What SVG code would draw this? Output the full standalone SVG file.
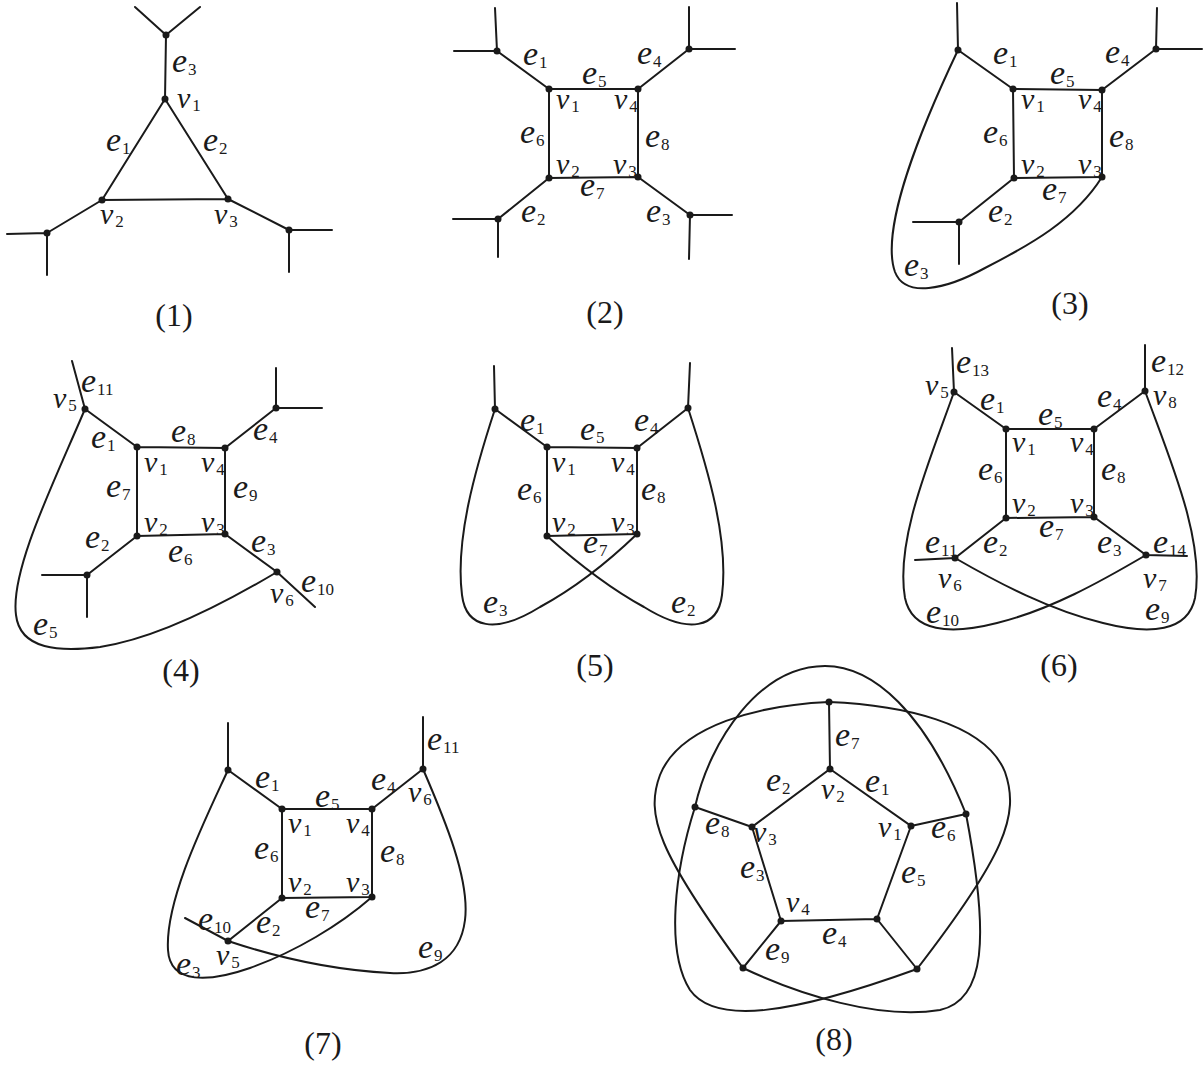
<svg xmlns="http://www.w3.org/2000/svg" width="1203" height="1067" viewBox="0 0 1203 1067">
<style>
.ed{fill:none;stroke:#1a1a1a;stroke-width:2;stroke-linecap:round}
.nd{fill:#1a1a1a}
text{font-family:"Liberation Serif","Times New Roman",serif;fill:#1a1a1a}
.e{font-style:italic;font-size:34px}
.v{font-style:italic;font-size:30px}
.s{font-style:normal;font-size:17px}
.cap{font-size:32px;text-anchor:middle}
</style>
<rect width="1203" height="1067" fill="#ffffff"/>

<!-- ===== Panel 1 ===== -->
<g id="panel1">
<g id="p1-edges" class="ed">
<path d="M166,35 L135,7 M166,35 L200,7 M166,35 L165,99 M165,99 L102,200 M165,99 L228,199 M102,200 L228,199 M102,200 L47,233 M47,233 L7,234 M47,233 L47,275 M228,199 L289,230 M289,230 L332,230 M289,230 L289,272"/>
</g>
<g id="p1-t"><circle class="nd" cx="166" cy="35" r="3.5"/></g>
<g id="p1-v1"><circle class="nd" cx="165" cy="99" r="3.5"/><text class="v" x="177" y="108">v<tspan class="s" dx="2" dy="3">1</tspan></text></g>
<g id="p1-v2"><circle class="nd" cx="102" cy="200" r="3.5"/><text class="v" x="100" y="224">v<tspan class="s" dx="2" dy="3">2</tspan></text></g>
<g id="p1-v3"><circle class="nd" cx="228" cy="199" r="3.5"/><text class="v" x="214" y="224">v<tspan class="s" dx="2" dy="3">3</tspan></text></g>
<g id="p1-l"><circle class="nd" cx="47" cy="233" r="3.5"/></g>
<g id="p1-r"><circle class="nd" cx="289" cy="230" r="3.5"/></g>
<g id="p1-labels">
<text class="e" x="172" y="72">e<tspan class="s" dx="1" dy="3">3</tspan></text>
<text class="e" x="106" y="151">e<tspan class="s" dx="1" dy="3">1</tspan></text>
<text class="e" x="203" y="151">e<tspan class="s" dx="1" dy="3">2</tspan></text>
<text class="cap" x="174" y="326">(1)</text>
</g>
</g>

<!-- ===== Panel 2 ===== -->
<g id="panel2">
<g id="p2-edges" class="ed">
<path d="M549,89 L638,89 L638,177 L549,178 Z M549,89 L497,51 M497,51 L454,51 M497,51 L495,8 M638,89 L689,49 M689,49 L735,49 M689,49 L689,7 M549,178 L498,219 M498,219 L453,219 M498,219 L498,257 M638,177 L690,215 M690,215 L732,215 M690,215 L689,259"/>
</g>
<g id="p2-tl"><circle class="nd" cx="497" cy="51" r="3.5"/></g>
<g id="p2-tr"><circle class="nd" cx="689" cy="49" r="3.5"/></g>
<g id="p2-bl"><circle class="nd" cx="498" cy="219" r="3.5"/></g>
<g id="p2-br"><circle class="nd" cx="690" cy="215" r="3.5"/></g>
<g id="p2-v1"><circle class="nd" cx="549" cy="89" r="3.5"/><text class="v" x="556" y="109">v<tspan class="s" dx="2" dy="3">1</tspan></text></g>
<g id="p2-v4"><circle class="nd" cx="638" cy="89" r="3.5"/><text class="v" x="614" y="109">v<tspan class="s" dx="2" dy="3">4</tspan></text></g>
<g id="p2-v2"><circle class="nd" cx="549" cy="178" r="3.5"/><text class="v" x="556" y="174">v<tspan class="s" dx="2" dy="3">2</tspan></text></g>
<g id="p2-v3"><circle class="nd" cx="638" cy="177" r="3.5"/><text class="v" x="613" y="174">v<tspan class="s" dx="2" dy="3">3</tspan></text></g>
<g id="p2-labels">
<text class="e" x="523" y="65">e<tspan class="s" dx="1" dy="3">1</tspan></text>
<text class="e" x="582" y="84">e<tspan class="s" dx="1" dy="3">5</tspan></text>
<text class="e" x="637" y="64">e<tspan class="s" dx="1" dy="3">4</tspan></text>
<text class="e" x="520" y="143">e<tspan class="s" dx="1" dy="3">6</tspan></text>
<text class="e" x="645" y="147">e<tspan class="s" dx="1" dy="3">8</tspan></text>
<text class="e" x="580" y="196">e<tspan class="s" dx="1" dy="3">7</tspan></text>
<text class="e" x="521" y="222">e<tspan class="s" dx="1" dy="3">2</tspan></text>
<text class="e" x="646" y="222">e<tspan class="s" dx="1" dy="3">3</tspan></text>
<text class="cap" x="605" y="323">(2)</text>
</g>
</g>

<!-- ===== Panel 3 ===== -->
<g id="panel3">
<g id="p3-edges" class="ed">
<path d="M1013,89 L1102,90 L1102,177 L1014,178 Z M958,50 L1013,89 M958,50 L957,3 M1102,90 L1156,49 M1156,49 L1202,49 M1156,49 L1157,8 M1014,178 L959,222 M959,222 L913,222 M959,222 L959,264"/>
<path d="M958,50 C920,130 880,230 895,272 C905,298 945,290 985,268 C1030,245 1075,220 1102,177"/>
</g>
<g id="p3-tl"><circle class="nd" cx="958" cy="50" r="3.5"/></g>
<g id="p3-tr"><circle class="nd" cx="1156" cy="49" r="3.5"/></g>
<g id="p3-bl"><circle class="nd" cx="959" cy="222" r="3.5"/></g>
<g id="p3-v1"><circle class="nd" cx="1013" cy="89" r="3.5"/><text class="v" x="1021" y="109">v<tspan class="s" dx="2" dy="3">1</tspan></text></g>
<g id="p3-v4"><circle class="nd" cx="1102" cy="90" r="3.5"/><text class="v" x="1078" y="109">v<tspan class="s" dx="2" dy="3">4</tspan></text></g>
<g id="p3-v2"><circle class="nd" cx="1014" cy="178" r="3.5"/><text class="v" x="1021" y="174">v<tspan class="s" dx="2" dy="3">2</tspan></text></g>
<g id="p3-v3"><circle class="nd" cx="1102" cy="177" r="3.5"/><text class="v" x="1078" y="174">v<tspan class="s" dx="2" dy="3">3</tspan></text></g>
<g id="p3-labels">
<text class="e" x="993" y="64">e<tspan class="s" dx="1" dy="3">1</tspan></text>
<text class="e" x="1050" y="84">e<tspan class="s" dx="1" dy="3">5</tspan></text>
<text class="e" x="1105" y="63">e<tspan class="s" dx="1" dy="3">4</tspan></text>
<text class="e" x="983" y="143">e<tspan class="s" dx="1" dy="3">6</tspan></text>
<text class="e" x="1109" y="147">e<tspan class="s" dx="1" dy="3">8</tspan></text>
<text class="e" x="1042" y="200">e<tspan class="s" dx="1" dy="3">7</tspan></text>
<text class="e" x="988" y="222">e<tspan class="s" dx="1" dy="3">2</tspan></text>
<text class="e" x="904" y="276">e<tspan class="s" dx="1" dy="3">3</tspan></text>
<text class="cap" x="1070" y="314">(3)</text>
</g>
</g>

<!-- ===== Panel 4 ===== -->
<g id="panel4">
<g id="p4-edges" class="ed">
<path d="M137,447 L225,448 L225,534 L137,536 Z M85,409 L137,447 M85,409 L72,361 M225,448 L276,408 M276,408 L322,408 M276,408 L276,368 M137,536 L87,575 M87,575 L42,575 M87,575 L87,617 M225,534 L277,572 L315,607"/>
<path d="M85,409 C55,480 10,570 16,615 C20,650 60,652 100,647 C160,638 230,600 277,572"/>
</g>
<g id="p4-v5"><circle class="nd" cx="85" cy="409" r="3.5"/><text class="v" x="53" y="408">v<tspan class="s" dx="2" dy="3">5</tspan></text></g>
<g id="p4-tr"><circle class="nd" cx="276" cy="408" r="3.5"/></g>
<g id="p4-bl"><circle class="nd" cx="87" cy="575" r="3.5"/></g>
<g id="p4-v6"><circle class="nd" cx="277" cy="572" r="3.5"/><text class="v" x="270" y="603">v<tspan class="s" dx="2" dy="3">6</tspan></text></g>
<g id="p4-v1"><circle class="nd" cx="137" cy="447" r="3.5"/><text class="v" x="144" y="472">v<tspan class="s" dx="2" dy="3">1</tspan></text></g>
<g id="p4-v4"><circle class="nd" cx="225" cy="448" r="3.5"/><text class="v" x="201" y="472">v<tspan class="s" dx="2" dy="3">4</tspan></text></g>
<g id="p4-v2"><circle class="nd" cx="137" cy="536" r="3.5"/><text class="v" x="144" y="532">v<tspan class="s" dx="2" dy="3">2</tspan></text></g>
<g id="p4-v3"><circle class="nd" cx="225" cy="534" r="3.5"/><text class="v" x="201" y="532">v<tspan class="s" dx="2" dy="3">3</tspan></text></g>
<g id="p4-labels">
<text class="e" x="81" y="392">e<tspan class="s" dx="1" dy="3">11</tspan></text>
<text class="e" x="91" y="448">e<tspan class="s" dx="1" dy="3">1</tspan></text>
<text class="e" x="171" y="442">e<tspan class="s" dx="1" dy="3">8</tspan></text>
<text class="e" x="253" y="440">e<tspan class="s" dx="1" dy="3">4</tspan></text>
<text class="e" x="106" y="497">e<tspan class="s" dx="1" dy="3">7</tspan></text>
<text class="e" x="233" y="498">e<tspan class="s" dx="1" dy="3">9</tspan></text>
<text class="e" x="85" y="548">e<tspan class="s" dx="1" dy="3">2</tspan></text>
<text class="e" x="168" y="562">e<tspan class="s" dx="1" dy="3">6</tspan></text>
<text class="e" x="251" y="552">e<tspan class="s" dx="1" dy="3">3</tspan></text>
<text class="e" x="301" y="592">e<tspan class="s" dx="1" dy="3">10</tspan></text>
<text class="e" x="33" y="635">e<tspan class="s" dx="1" dy="3">5</tspan></text>
<text class="cap" x="181" y="681">(4)</text>
</g>
</g>

<!-- ===== Panel 5 ===== -->
<g id="panel5">
<g id="p5-edges" class="ed">
<path d="M547,447 L637,448 L637,534 L547,536 Z M495,409 L547,447 M495,409 L494,366 M688,408 L637,448 M688,408 L690,363"/>
<path d="M495,409 C475,470 455,540 462,595 C466,628 495,635 540,607 C575,588 610,560 637,534"/>
<path d="M688,408 C708,470 729,540 722,595 C718,628 689,635 644,607 C609,588 574,560 547,536"/>
</g>
<g id="p5-tl"><circle class="nd" cx="495" cy="409" r="3.5"/></g>
<g id="p5-tr"><circle class="nd" cx="688" cy="408" r="3.5"/></g>
<g id="p5-v1"><circle class="nd" cx="547" cy="447" r="3.5"/><text class="v" x="552" y="472">v<tspan class="s" dx="2" dy="3">1</tspan></text></g>
<g id="p5-v4"><circle class="nd" cx="637" cy="448" r="3.5"/><text class="v" x="611" y="472">v<tspan class="s" dx="2" dy="3">4</tspan></text></g>
<g id="p5-v2"><circle class="nd" cx="547" cy="536" r="3.5"/><text class="v" x="552" y="532">v<tspan class="s" dx="2" dy="3">2</tspan></text></g>
<g id="p5-v3"><circle class="nd" cx="637" cy="534" r="3.5"/><text class="v" x="611" y="532">v<tspan class="s" dx="2" dy="3">3</tspan></text></g>
<g id="p5-labels">
<text class="e" x="520" y="431">e<tspan class="s" dx="1" dy="3">1</tspan></text>
<text class="e" x="580" y="440">e<tspan class="s" dx="1" dy="3">5</tspan></text>
<text class="e" x="634" y="431">e<tspan class="s" dx="1" dy="3">4</tspan></text>
<text class="e" x="517" y="500">e<tspan class="s" dx="1" dy="3">6</tspan></text>
<text class="e" x="641" y="500">e<tspan class="s" dx="1" dy="3">8</tspan></text>
<text class="e" x="583" y="553">e<tspan class="s" dx="1" dy="3">7</tspan></text>
<text class="e" x="483" y="613">e<tspan class="s" dx="1" dy="3">3</tspan></text>
<text class="e" x="671" y="613">e<tspan class="s" dx="1" dy="3">2</tspan></text>
<text class="cap" x="595" y="676">(5)</text>
</g>
</g>

<!-- ===== Panel 6 ===== -->
<g id="panel6">
<g id="p6-edges" class="ed">
<path d="M1006,429 L1094,429 L1094,517 L1006,518 Z M954,392 L1006,429 M954,392 L952,348 M1145,391 L1094,429 M1145,391 L1145,345 M1006,518 L955,558 L915,560 M1094,517 L1146,555 L1187,556"/>
<path d="M954,392 C930,460 895,540 905,598 C912,632 950,635 997,623 C1050,610 1100,582 1146,555"/>
<path d="M1145,391 C1170,460 1205,540 1195,598 C1188,632 1150,635 1103,623 C1050,610 1000,584 955,558"/>
</g>
<g id="p6-v5"><circle class="nd" cx="954" cy="392" r="3.5"/><text class="v" x="925" y="395">v<tspan class="s" dx="2" dy="3">5</tspan></text></g>
<g id="p6-v8"><circle class="nd" cx="1145" cy="391" r="3.5"/><text class="v" x="1153" y="405">v<tspan class="s" dx="2" dy="3">8</tspan></text></g>
<g id="p6-v6"><circle class="nd" cx="955" cy="558" r="3.5"/><text class="v" x="938" y="588">v<tspan class="s" dx="2" dy="3">6</tspan></text></g>
<g id="p6-v7"><circle class="nd" cx="1146" cy="555" r="3.5"/><text class="v" x="1143" y="588">v<tspan class="s" dx="2" dy="3">7</tspan></text></g>
<g id="p6-v1"><circle class="nd" cx="1006" cy="429" r="3.5"/><text class="v" x="1012" y="452">v<tspan class="s" dx="2" dy="3">1</tspan></text></g>
<g id="p6-v4"><circle class="nd" cx="1094" cy="429" r="3.5"/><text class="v" x="1070" y="452">v<tspan class="s" dx="2" dy="3">4</tspan></text></g>
<g id="p6-v2"><circle class="nd" cx="1006" cy="518" r="3.5"/><text class="v" x="1012" y="513">v<tspan class="s" dx="2" dy="3">2</tspan></text></g>
<g id="p6-v3"><circle class="nd" cx="1094" cy="517" r="3.5"/><text class="v" x="1070" y="513">v<tspan class="s" dx="2" dy="3">3</tspan></text></g>
<g id="p6-labels">
<text class="e" x="956" y="373">e<tspan class="s" dx="1" dy="3">13</tspan></text>
<text class="e" x="1151" y="372">e<tspan class="s" dx="1" dy="3">12</tspan></text>
<text class="e" x="980" y="410">e<tspan class="s" dx="1" dy="3">1</tspan></text>
<text class="e" x="1038" y="425">e<tspan class="s" dx="1" dy="3">5</tspan></text>
<text class="e" x="1097" y="407">e<tspan class="s" dx="1" dy="3">4</tspan></text>
<text class="e" x="978" y="480">e<tspan class="s" dx="1" dy="3">6</tspan></text>
<text class="e" x="1101" y="480">e<tspan class="s" dx="1" dy="3">8</tspan></text>
<text class="e" x="1039" y="537">e<tspan class="s" dx="1" dy="3">7</tspan></text>
<text class="e" x="925" y="553">e<tspan class="s" dx="1" dy="3">11</tspan></text>
<text class="e" x="983" y="553">e<tspan class="s" dx="1" dy="3">2</tspan></text>
<text class="e" x="1097" y="553">e<tspan class="s" dx="1" dy="3">3</tspan></text>
<text class="e" x="1153" y="553">e<tspan class="s" dx="1" dy="3">14</tspan></text>
<text class="e" x="926" y="623">e<tspan class="s" dx="1" dy="3">10</tspan></text>
<text class="e" x="1145" y="620">e<tspan class="s" dx="1" dy="3">9</tspan></text>
<text class="cap" x="1059" y="676">(6)</text>
</g>
</g>

<!-- ===== Panel 7 ===== -->
<g id="panel7">
<g id="p7-edges" class="ed">
<path d="M282,809 L372,809 L372,897 L282,898 Z M228,770 L282,809 M228,770 L228,723 M423,769 L372,809 M423,769 L423,717 M282,898 L228,941 L185,918"/>
<path d="M228,770 C205,820 165,900 168,950 C170,985 210,982 250,968 C295,952 340,925 372,897"/>
<path d="M423,769 C445,820 470,880 465,920 C460,960 430,975 390,973 C330,970 270,955 228,941"/>
</g>
<g id="p7-tl"><circle class="nd" cx="228" cy="770" r="3.5"/></g>
<g id="p7-v6"><circle class="nd" cx="423" cy="769" r="3.5"/><text class="v" x="408" y="802">v<tspan class="s" dx="2" dy="3">6</tspan></text></g>
<g id="p7-v5"><circle class="nd" cx="228" cy="941" r="3.5"/><text class="v" x="216" y="965">v<tspan class="s" dx="2" dy="3">5</tspan></text></g>
<g id="p7-v1"><circle class="nd" cx="282" cy="809" r="3.5"/><text class="v" x="288" y="833">v<tspan class="s" dx="2" dy="3">1</tspan></text></g>
<g id="p7-v4"><circle class="nd" cx="372" cy="809" r="3.5"/><text class="v" x="346" y="833">v<tspan class="s" dx="2" dy="3">4</tspan></text></g>
<g id="p7-v2"><circle class="nd" cx="282" cy="898" r="3.5"/><text class="v" x="288" y="892">v<tspan class="s" dx="2" dy="3">2</tspan></text></g>
<g id="p7-v3"><circle class="nd" cx="372" cy="897" r="3.5"/><text class="v" x="346" y="892">v<tspan class="s" dx="2" dy="3">3</tspan></text></g>
<g id="p7-labels">
<text class="e" x="427" y="750">e<tspan class="s" dx="1" dy="3">11</tspan></text>
<text class="e" x="255" y="788">e<tspan class="s" dx="1" dy="3">1</tspan></text>
<text class="e" x="315" y="807">e<tspan class="s" dx="1" dy="3">5</tspan></text>
<text class="e" x="371" y="790">e<tspan class="s" dx="1" dy="3">4</tspan></text>
<text class="e" x="254" y="859">e<tspan class="s" dx="1" dy="3">6</tspan></text>
<text class="e" x="380" y="862">e<tspan class="s" dx="1" dy="3">8</tspan></text>
<text class="e" x="305" y="918">e<tspan class="s" dx="1" dy="3">7</tspan></text>
<text class="e" x="198" y="930">e<tspan class="s" dx="1" dy="3">10</tspan></text>
<text class="e" x="256" y="933">e<tspan class="s" dx="1" dy="3">2</tspan></text>
<text class="e" x="176" y="975">e<tspan class="s" dx="1" dy="3">3</tspan></text>
<text class="e" x="418" y="958">e<tspan class="s" dx="1" dy="3">9</tspan></text>
<text class="cap" x="323" y="1054">(7)</text>
</g>
</g>

<!-- ===== Panel 8 ===== -->
<g id="panel8">
<g id="p8-edges" class="ed">
<path d="M830,769 L911,826 L877,919 L781,921 L752,827 Z M830,769 L829,702 M911,826 L966,814 M877,919 L917,969 M781,921 L743,968 M752,827 L695,807"/>
<path d="M829,702 C760,705 680,725 660,775 C645,815 658,852 743,968"/>
<path d="M829,702 C900,705 985,722 1005,772 C1020,815 1005,855 917,969"/>
<path d="M695,807 C710,740 760,666 825,666 C873,666 925,712 966,814"/>
<path d="M695,807 C675,870 665,950 690,990 C715,1025 790,1015 917,969"/>
<path d="M743,968 C800,995 880,1020 940,1010 C985,1000 990,940 966,814"/>
</g>
<g id="p8-t"><circle class="nd" cx="829" cy="702" r="3.5"/></g>
<g id="p8-r"><circle class="nd" cx="966" cy="814" r="3.5"/></g>
<g id="p8-br"><circle class="nd" cx="917" cy="969" r="3.5"/></g>
<g id="p8-bl"><circle class="nd" cx="743" cy="968" r="3.5"/></g>
<g id="p8-l"><circle class="nd" cx="695" cy="807" r="3.5"/></g>
<g id="p8-v2"><circle class="nd" cx="830" cy="769" r="3.5"/><text class="v" x="821" y="799">v<tspan class="s" dx="2" dy="3">2</tspan></text></g>
<g id="p8-v1"><circle class="nd" cx="911" cy="826" r="3.5"/><text class="v" x="878" y="837">v<tspan class="s" dx="2" dy="3">1</tspan></text></g>
<g id="p8-v5"><circle class="nd" cx="877" cy="919" r="3.5"/></g>
<g id="p8-v4"><circle class="nd" cx="781" cy="921" r="3.5"/><text class="v" x="786" y="912">v<tspan class="s" dx="2" dy="3">4</tspan></text></g>
<g id="p8-v3"><circle class="nd" cx="752" cy="827" r="3.5"/><text class="v" x="753" y="842">v<tspan class="s" dx="2" dy="3">3</tspan></text></g>
<g id="p8-labels">
<text class="e" x="835" y="746">e<tspan class="s" dx="1" dy="3">7</tspan></text>
<text class="e" x="766" y="791">e<tspan class="s" dx="1" dy="3">2</tspan></text>
<text class="e" x="865" y="792">e<tspan class="s" dx="1" dy="3">1</tspan></text>
<text class="e" x="705" y="834">e<tspan class="s" dx="1" dy="3">8</tspan></text>
<text class="e" x="931" y="838">e<tspan class="s" dx="1" dy="3">6</tspan></text>
<text class="e" x="740" y="878">e<tspan class="s" dx="1" dy="3">3</tspan></text>
<text class="e" x="901" y="883">e<tspan class="s" dx="1" dy="3">5</tspan></text>
<text class="e" x="822" y="944">e<tspan class="s" dx="1" dy="3">4</tspan></text>
<text class="e" x="765" y="960">e<tspan class="s" dx="1" dy="3">9</tspan></text>
<text class="cap" x="834" y="1050">(8)</text>
</g>
</g>
</svg>
